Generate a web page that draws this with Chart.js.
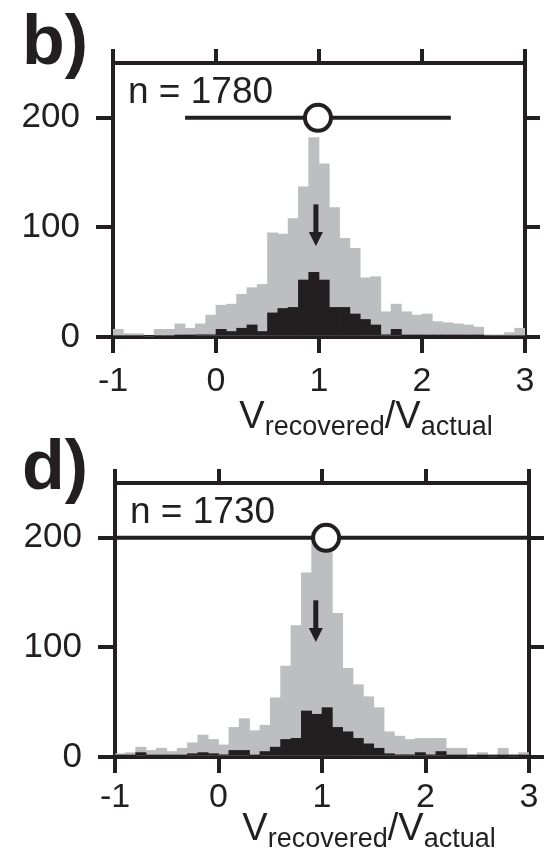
<!DOCTYPE html>
<html>
<head>
<meta charset="utf-8">
<script src="https://cdn.jsdelivr.net/npm/chart.js@4.4.1/dist/chart.umd.min.js"></script>
<style>
  html, body { margin: 0; padding: 0; background: #fff; }
  #wrap { position: relative; width: 549px; height: 848px; overflow: hidden; }
  canvas { position: absolute; left: 0; }
  #c1 { top: 0; }
  #c2 { top: 424px; }
</style>
</head>
<body>
<div id="wrap">
  <canvas id="c1" width="549" height="450"></canvas>
  <canvas id="c2" width="549" height="424"></canvas>
</div>
<script>
// bin centres (bins of 0.1 from -1 to 3)
const BIN_CENTERS = [
  -0.95, -0.85, -0.75, -0.65, -0.55, -0.45, -0.35, -0.25, -0.15, -0.05,
   0.05,  0.15,  0.25,  0.35,  0.45,  0.55,  0.65,  0.75,  0.85,  0.95,
   1.05,  1.15,  1.25,  1.35,  1.45,  1.55,  1.65,  1.75,  1.85,  1.95,
   2.05,  2.15,  2.25,  2.35,  2.45,  2.55,  2.65,  2.75,  2.85,  2.95,
];
const X_TICKS = [-1, 0, 1, 2, 3];
const Y_TICKS = [0, 100, 200];

// panel b
const B_TOTAL  = [7, 3, 3, 0, 7, 7, 12, 8, 12, 20, 29, 30, 39, 45, 48, 95, 94, 108, 137, 182,
                  158, 118, 90, 81, 54, 55, 23, 30, 23, 20, 21, 14, 13, 12, 11, 9, 2, 2, 4, 8];
const B_SUBSET = [0, 0, 0, 0, 0, 0, 1, 1, 2, 2, 7, 5, 8, 11, 5, 22, 26, 27, 52, 59,
                  52, 27, 27, 21, 16, 11, 2, 7, 1, 1, 1, 1, 1, 1, 1, 1, 0, 0, 0, 0];
const B_MEDIAN = [0.99, 200];
const B_RANGE  = [-0.30, 2.28];
const B_ARROW  = [0.97, 121, 83];   // x, from, to
const B_N      = 'n = 1780';

// panel d
const D_TOTAL  = [3, 4, 9, 6, 8, 5, 8, 13, 20, 16, 11, 27, 35, 24, 29, 54, 83, 120, 168, 205,
                  200, 131, 81, 66, 55, 45, 23, 19, 16, 17, 17, 17, 8, 8, 1, 4, 1, 8, 1, 4];
const D_SUBSET = [1, 1, 4, 1, 1, 1, 1, 3, 4, 3, 2, 6, 6, 1, 5, 9, 16, 17, 42, 39,
                  45, 27, 23, 17, 12, 8, 3, 2, 2, 4, 2, 5, 1, 1, 1, 1, 1, 1, 1, 1];
const D_MEDIAN = [1.04, 200];
const D_RANGE  = [-1, 3];
const D_ARROW  = [0.94, 143, 105];
const D_N      = 'n = 1730';

const INK  = '#231f20';
const GREY = '#bcbec0';
const FONT = '"Liberation Sans", Arial, Helvetica, sans-serif';

const pts = (xs, ys) => xs.map((x, i) => ({ x, y: ys[i] }));

// arrow, n label, panel letter and axis title
const decor = {
  id: 'decor',
  afterDatasetsDraw(chart, args, o) {
    const { ctx, scales: { x, y } } = chart;
    const ax = x.getPixelForValue(o.arrow[0]);
    const y0 = y.getPixelForValue(o.arrow[1]);
    const y1 = y.getPixelForValue(o.arrow[2]);
    ctx.save();
    ctx.strokeStyle = INK;
    ctx.fillStyle = INK;
    ctx.lineWidth = 5;
    ctx.beginPath();
    ctx.moveTo(ax, y0);
    ctx.lineTo(ax, y1 - 10);
    ctx.stroke();
    ctx.beginPath();
    ctx.moveTo(ax - 7, y1 - 14);
    ctx.lineTo(ax + 7, y1 - 14);
    ctx.lineTo(ax, y1);
    ctx.closePath();
    ctx.fill();
    ctx.restore();
  },
  afterDraw(chart, args, o) {
    const { ctx, chartArea: a } = chart;
    ctx.save();
    ctx.fillStyle = INK;
    ctx.textBaseline = 'alphabetic';
    ctx.textAlign = 'left';

    ctx.font = `bold 70px ${FONT}`;
    ctx.fillText(o.letter, 22, o.letterY);

    ctx.font = `37px ${FONT}`;
    ctx.fillText(o.n, a.left + 15, a.top + 40);

    // V_recovered / V_actual
    const big = `38px ${FONT}`, small = `27px ${FONT}`;
    const parts = [['V', big, 0], ['recovered', small, 7], ['/V', big, 0], ['actual', small, 7]];
    let w = 0;
    for (const [t, f] of parts) { ctx.font = f; w += ctx.measureText(t).width; }
    let cx = (a.left + a.right) / 2 + o.titleShift - w / 2;
    for (const [t, f, dy] of parts) {
      ctx.font = f;
      ctx.fillText(t, cx, o.titleY + dy);
      cx += ctx.measureText(t).width;
    }
    ctx.restore();
  },
};

function makeChart(id, g, total, subset, median, range, arrow, n) {
  const axisGrid = (len) => ({
    drawOnChartArea: false, drawTicks: true, tickLength: len, offset: false,
    tickWidth: 4, tickColor: INK, color: INK, lineWidth: 4,
  });
  const border = { display: true, color: INK, width: 4 };
  const setX = s => { s.ticks = X_TICKS.map(v => ({ value: v })); };
  const setY = s => { s.ticks = Y_TICKS.map(v => ({ value: v })); };

  return new Chart(document.getElementById(id), {
    type: 'bar',
    data: {
      datasets: [
        { type: 'line', data: [{ x: median[0], y: median[1] }], showLine: false,
          pointRadius: 13, pointBackgroundColor: '#fff', pointBorderColor: INK,
          pointBorderWidth: 4, clip: false, order: 1 },
        { type: 'line', data: pts(range, [median[1], median[1]]), borderColor: INK,
          borderWidth: 4, pointRadius: 0, order: 2 },
        { data: pts(BIN_CENTERS, subset), backgroundColor: INK, order: 3 },
        { data: pts(BIN_CENTERS, total), backgroundColor: GREY, order: 4 },
      ],
    },
    options: {
      responsive: false,
      animation: false,
      layout: { padding: 0 },
      datasets: { bar: { grouped: false, barPercentage: 1, categoryPercentage: 1, borderWidth: 0 } },
      plugins: {
        legend: { display: false },
        tooltip: { enabled: false },
        decor: { arrow, n, letter: g.letter, letterY: g.letterY, titleY: g.titleY, titleShift: g.titleShift },
      },
      scales: {
        x: {
          type: 'linear', position: 'bottom', min: -1, max: 3, offset: false, z: 1,
          afterBuildTicks: setX, afterFit: s => { s.height = g.bottom; },
          grid: axisGrid(16), border,
          ticks: { font: { family: FONT, size: 34 }, color: INK, padding: g.xPad, maxRotation: 0 },
        },
        xTop: {
          type: 'linear', position: 'top', min: -1, max: 3, offset: false, z: 1,
          afterBuildTicks: setX, afterFit: s => { s.height = g.top; },
          grid: axisGrid(14), border, ticks: { display: false },
        },
        y: {
          type: 'linear', position: 'left', min: 0, max: 250, z: 1,
          afterBuildTicks: setY, afterFit: s => { s.width = g.left; },
          grid: axisGrid(17), border,
          ticks: { font: { family: FONT, size: 35 }, color: INK, padding: 16 },
        },
        yRight: {
          type: 'linear', position: 'right', min: 0, max: 250, z: 1,
          afterBuildTicks: setY, afterFit: s => { s.width = g.right; },
          grid: axisGrid(15), border, ticks: { display: false },
        },
      },
    },
    plugins: [decor],
  });
}

makeChart('c1', { left: 113, right: 24, top: 63, bottom: 450 - 337, xPad: 8,
                  letter: 'b)', letterY: 64, titleY: 428, titleShift: 47 },
  B_TOTAL, B_SUBSET, B_MEDIAN, B_RANGE, B_ARROW, B_N);
makeChart('c2', { left: 115, right: 20, top: 59, bottom: 424 - 333, xPad: 4,
                  letter: 'd)', letterY: 65, titleY: 416, titleShift: 47 },
  D_TOTAL, D_SUBSET, D_MEDIAN, D_RANGE, D_ARROW, D_N);
</script>
</body>
</html>
